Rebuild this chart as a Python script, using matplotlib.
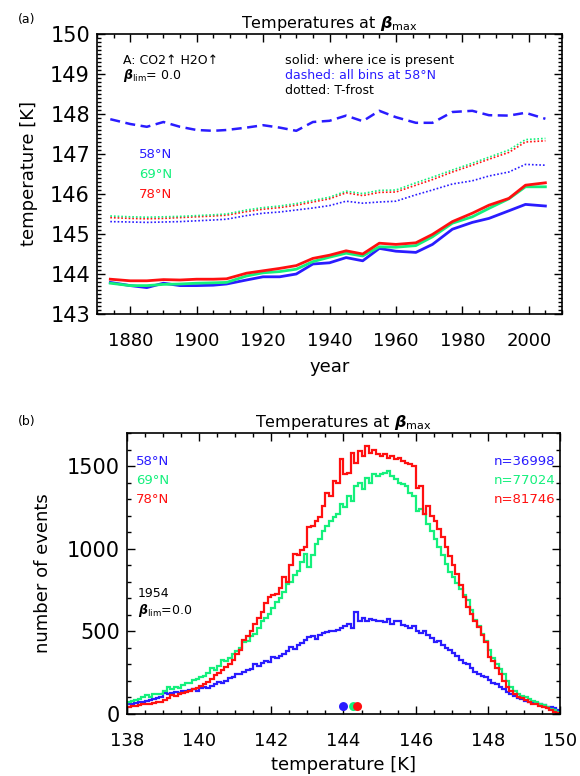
import numpy as np
import matplotlib
matplotlib.use("Agg")
import matplotlib.pyplot as plt
from matplotlib.ticker import MultipleLocator

# ---------------- data: panel (a) ----------------
years = [1874, 1880, 1885, 1890, 1895, 1900, 1905, 1909, 1915, 1920, 1925, 1930, 1935,
         1940, 1945, 1950, 1955, 1960, 1966, 1971, 1977, 1983, 1988, 1994, 1999, 2005]
solid_58 = [143.79, 143.71, 143.66, 143.77, 143.71, 143.71, 143.72, 143.75, 143.85, 143.93,
            143.93, 144.00, 144.25, 144.28, 144.41, 144.33, 144.64, 144.57, 144.54, 144.74,
            145.12, 145.29, 145.39, 145.58, 145.74, 145.70]
solid_69 = [143.77, 143.71, 143.71, 143.74, 143.75, 143.77, 143.78, 143.79, 143.95, 144.03,
            144.06, 144.12, 144.31, 144.42, 144.52, 144.45, 144.68, 144.67, 144.71, 144.93,
            145.27, 145.43, 145.64, 145.88, 146.18, 146.18]
solid_78 = [143.87, 143.83, 143.83, 143.86, 143.85, 143.87, 143.87, 143.88, 144.02, 144.08,
            144.14, 144.21, 144.39, 144.47, 144.58, 144.50, 144.77, 144.74, 144.78, 144.99,
            145.31, 145.52, 145.72, 145.89, 146.22, 146.28]
dashed_58 = [147.87, 147.75, 147.68, 147.80, 147.68, 147.60, 147.58, 147.60, 147.66, 147.72,
             147.66, 147.58, 147.80, 147.83, 147.96, 147.82, 148.08, 147.92, 147.78, 147.78,
             148.05, 148.08, 147.97, 147.96, 148.03, 147.88]
dotted_58 = [145.31, 145.30, 145.29, 145.30, 145.31, 145.33, 145.35, 145.37, 145.46, 145.52,
             145.55, 145.60, 145.65, 145.71, 145.82, 145.77, 145.80, 145.82, 145.98, 146.10,
             146.25, 146.33, 146.45, 146.55, 146.74, 146.72]
dotted_69 = [145.45, 145.43, 145.42, 145.43, 145.44, 145.46, 145.48, 145.50, 145.60, 145.66,
             145.70, 145.76, 145.84, 145.92, 146.07, 146.01, 146.09, 146.10, 146.28, 146.42,
             146.60, 146.77, 146.92, 147.10, 147.36, 147.39]
dotted_78 = [145.41, 145.39, 145.38, 145.39, 145.41, 145.43, 145.45, 145.47, 145.56, 145.62,
             145.66, 145.72, 145.80, 145.88, 146.03, 145.96, 146.04, 146.05, 146.22, 146.36,
             146.55, 146.72, 146.87, 147.04, 147.30, 147.33]

# ---------------- data: panel (b) ----------------
bin_edges = np.round(np.arange(138.0, 150.0001, 0.1), 1)
hist_58 = [58, 62, 66, 70, 75, 80, 86, 92, 98, 105,
           125, 118, 128, 135, 130, 140, 138, 145, 150, 142,
           160, 165, 158, 170, 180, 195, 190, 200, 215, 225,
           245, 240, 255, 265, 275, 300, 290, 310, 320, 315,
           345, 340, 350, 365, 380, 405, 395, 420, 430, 445,
           465, 470, 455, 480, 490, 495, 505, 500, 510, 520,
           530, 545, 520, 615, 560, 580, 565, 575, 570, 560,
           560, 555, 575, 545, 565, 560, 540, 535, 520, 530,
           505, 490, 500, 475, 460, 435, 440, 415, 400, 385,
           370, 350, 325, 310, 300, 280, 255, 245, 230, 225,
           205, 190, 180, 165, 150, 135, 120, 108, 95, 88,
           80, 72, 68, 64, 58, 52, 45, 40, 34, 26]
hist_69 = [70, 78, 85, 90, 100, 113, 105, 118, 123, 120,
           140, 163, 150, 165, 160, 173, 185, 190, 203, 210,
           224, 230, 250, 280, 265, 290, 324, 320, 340, 364,
           380, 400, 435, 440, 470, 486, 520, 560, 580, 606,
           640, 677, 700, 740, 787, 800, 840, 867, 920, 968,
           888, 960, 1028, 1060, 1109, 1140, 1169, 1190, 1209, 1269,
           1250, 1320, 1290, 1380, 1400, 1360, 1430, 1400, 1450, 1440,
           1450, 1460, 1470, 1440, 1420, 1400, 1390, 1380, 1340, 1320,
           1229, 1240, 1209, 1150, 1109, 1060, 1008, 960, 908, 860,
           827, 790, 757, 720, 687, 630, 566, 530, 486, 440,
           385, 340, 300, 270, 244, 200, 164, 140, 120, 110,
           104, 90, 80, 70, 63, 55, 45, 33, 25, 13]
hist_78 = [45, 50, 48, 55, 58, 60, 62, 66, 70, 75,
           85, 95, 113, 110, 120, 127, 135, 140, 153, 160,
           170, 183, 195, 210, 234, 250, 265, 284, 300, 325,
           360, 390, 445, 470, 500, 546, 580, 620, 670, 707,
           720, 727, 760, 827, 800, 900, 968, 960, 990, 1008,
           1129, 1140, 1170, 1189, 1260, 1340, 1320, 1410, 1400, 1541,
           1450, 1460, 1580, 1520, 1591, 1560, 1621, 1580, 1600, 1571,
           1560, 1575, 1550, 1561, 1545, 1550, 1531, 1520, 1510, 1501,
           1370, 1380, 1209, 1259, 1200, 1169, 1120, 1068, 1010, 958,
           900, 847, 780, 707, 650, 606, 560, 526, 480, 435,
           345, 320, 280, 244, 200, 164, 140, 120, 104, 95,
           85, 75, 63, 58, 50, 43, 35, 25, 15, 5]
mean_T = [144.0, 144.28, 144.39]
n_events = [36998, 77024, 81746]
lat_labels = ["58°N", "69°N", "78°N"]

BLUE = "#2a1cff"
GREEN = "#14f07c"
RED = "#ff1010"
colors = [BLUE, GREEN, RED]

plt.rcParams['font.family'] = ['DejaVu Sans']
fig = plt.figure(figsize=(5.8, 7.76), dpi=100)

BETA = r"\mathbfit{\beta}"
TITLE = r"Temperatures at $" + BETA + r"_{\rm max}$"
BLIM = r"$" + BETA + r"_{\rm lim}$"

def style_axes(ax):
    ax.tick_params(which='both', direction='in', top=True, right=True, width=1.0)
    ax.tick_params(which='major', length=6)
    ax.tick_params(which='minor', length=3)
    for s in ax.spines.values():
        s.set_linewidth(1.2)

# ---------------- panel (a) ----------------
axa = fig.add_axes([97/580, 1-314/776, 465/580, 280/776])
axa.plot(years, dashed_58, color=BLUE, lw=1.8, ls=(0, (4, 2.2)))
axa.plot(years, dotted_58, color=BLUE, lw=1.2, ls=(0, (1, 1.2)))
axa.plot(years, dotted_78, color=RED, lw=1.2, ls=(0, (1, 1.2)))
axa.plot(years, dotted_69, color=GREEN, lw=1.2, ls=(0, (1, 1.2)))
axa.plot(years, solid_58, color=BLUE, lw=2.0)
axa.plot(years, solid_69, color=GREEN, lw=2.0)
axa.plot(years, solid_78, color=RED, lw=2.0)
axa.set_xlim(1870, 2010)
axa.set_ylim(143, 150)
axa.xaxis.set_major_locator(MultipleLocator(20))
axa.xaxis.set_minor_locator(MultipleLocator(5))
axa.yaxis.set_major_locator(MultipleLocator(1))
axa.yaxis.set_minor_locator(MultipleLocator(0.1))
style_axes(axa)
axa.tick_params(axis='y', which='major', labelsize=15, pad=5)
axa.tick_params(axis='x', which='major', labelsize=13, pad=13)
axa.set_xlabel("year", fontsize=13, labelpad=6)
axa.set_ylabel("temperature [K]", fontsize=13, labelpad=9)
axa.set_title(TITLE, fontsize=11.5, pad=4)

axa.text(0.055, 0.905, "A: CO2↑ H2O↑", transform=axa.transAxes, fontsize=9, va='center')
axa.text(0.055, 0.852, BLIM + "= 0.0", transform=axa.transAxes, fontsize=9, va='center')
axa.text(0.405, 0.905, "solid: where ice is present", transform=axa.transAxes, fontsize=9.3, va='center')
axa.text(0.405, 0.852, "dashed: all bins at 58°N", transform=axa.transAxes, fontsize=9,
         va='center', color=BLUE)
axa.text(0.405, 0.800, "dotted: T-frost", transform=axa.transAxes, fontsize=9, va='center')
for i, (lab, c) in enumerate(zip(lat_labels, colors)):
    axa.text(0.09, 0.568 - i*0.07, lab, transform=axa.transAxes, fontsize=9.5, color=c, va='center')

fig.text(18/580, 1-20/776, "(a)", fontsize=9, va='center')

# ---------------- panel (b) ----------------
axb = fig.add_axes([127/580, 1-714/776, 433/580, 281/776])
for vals, c in zip([hist_58, hist_69, hist_78], colors):
    axb.stairs(vals, bin_edges, color=c, lw=1.6)
axb.scatter(mean_T, [45, 45, 45], s=42, c=colors, zorder=5, linewidths=0)
axb.set_xlim(138, 150)
axb.set_ylim(0, 1700)
axb.xaxis.set_major_locator(MultipleLocator(2))
axb.xaxis.set_minor_locator(MultipleLocator(0.5))
axb.yaxis.set_major_locator(MultipleLocator(500))
axb.yaxis.set_minor_locator(MultipleLocator(100))
style_axes(axb)
axb.tick_params(axis='y', which='major', labelsize=15, pad=5)
axb.tick_params(axis='x', which='major', labelsize=13, pad=13)
axb.set_xlabel("temperature [K]", fontsize=13, labelpad=4)
axb.set_ylabel("number of events", fontsize=13, labelpad=11)
axb.set_title(TITLE, fontsize=11.5, pad=4)

for i, (lab, n, c) in enumerate(zip(lat_labels, n_events, colors)):
    axb.text(0.02, 0.90 - i*0.0675, lab, transform=axb.transAxes, fontsize=9.5, color=c, va='center')
    axb.text(0.99, 0.90 - i*0.0675, f"n={n}", transform=axb.transAxes, fontsize=9.5, color=c,
             va='center', ha='right')
axb.text(0.025, 0.43, "1954", transform=axb.transAxes, fontsize=9, va='center')
axb.text(0.025, 0.368, BLIM + "=0.0", transform=axb.transAxes, fontsize=9, va='center')

fig.text(18/580, 1-422/776, "(b)", fontsize=9, va='center')

fig.savefig("out.png", dpi=100)
